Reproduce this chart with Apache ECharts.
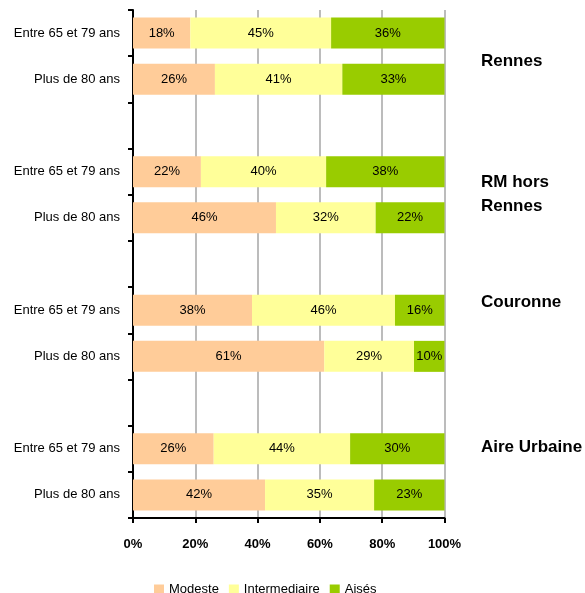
<!DOCTYPE html>
<html>
<head>
<meta charset="utf-8">
<script src="https://cdn.jsdelivr.net/npm/echarts@6/dist/echarts.min.js"></script>
<style>
html,body{margin:0;padding:0;background:#fff;}
#chart{width:585px;height:593px;}
</style>
</head>
<body>
<div id="chart"></div>
<script>
const categories = [
  'Entre 65 et 79 ans', 'Plus de 80 ans', '',
  'Entre 65 et 79 ans', 'Plus de 80 ans', '',
  'Entre 65 et 79 ans', 'Plus de 80 ans', '',
  'Entre 65 et 79 ans', 'Plus de 80 ans'
];
const seriesNames = ['Modeste', 'Intermediaire', 'Aisés'];
const modeste       = [18.4, 26.3, null, 21.8, 45.9, null, 38.2, 61.4, null, 25.9, 42.4];
const intermediaire = [45.2, 40.9, null, 40.2, 32.0, null, 45.9, 28.8, null, 43.8, 35.0];
const aises         = [36.4, 32.8, null, 38.0, 22.1, null, 15.9,  9.8, null, 30.3, 22.6];
const colors = ['#FFCC99', '#FFFF99', '#99CC00'];
const xTicks = [0, 20, 40, 60, 80, 100];
const groupLabels = [
  { text: 'Rennes', x: 481, y: 49 },
  { text: 'RM hors\nRennes', x: 481, y: 170 },
  { text: 'Couronne', x: 481, y: 290 },
  { text: 'Aire Urbaine', x: 481, y: 435 }
];

const FONT = '"Liberation Sans", Arial, sans-serif';
const chart = echarts.init(document.getElementById('chart'), null, { renderer: 'canvas' });

const values = [modeste, intermediaire, aises];
const series = seriesNames.map((name, i) => ({
  name: name,
  type: 'bar',
  stack: 'total',
  barWidth: 31,
  data: values[i],
  itemStyle: { color: colors[i] },
  label: {
    show: true,
    position: 'inside',
    color: '#000',
    fontSize: 13,
    fontFamily: FONT,
    formatter: p => (p.value == null ? '' : Math.round(p.value) + '%')
  },
  emphasis: { disabled: true }
}));

chart.setOption({
  animation: false,
  textStyle: { fontFamily: FONT },
  grid: { left: 133, right: 140.5, top: 10, bottom: 75, containLabel: false },
  xAxis: {
    type: 'value',
    min: xTicks[0],
    max: xTicks[xTicks.length - 1],
    interval: 20,
    axisLine: { show: true, lineStyle: { color: '#000', width: 2 } },
    axisTick: { show: true, length: 5, lineStyle: { color: '#000', width: 2 } },
    splitLine: { show: true, lineStyle: { color: '#A6A6A6', width: 1.5 } },
    axisLabel: {
      color: '#000',
      fontSize: 13,
      fontWeight: 'bold',
      fontFamily: FONT,
      margin: 20,
      formatter: v => v + '%'
    }
  },
  yAxis: {
    type: 'category',
    inverse: true,
    data: categories,
    axisLine: { show: true, lineStyle: { color: '#000', width: 2 } },
    axisTick: { show: true, interval: 0, length: 5, lineStyle: { color: '#000', width: 2 } },
    axisLabel: { interval: 0, color: '#000', fontSize: 13, fontFamily: FONT, margin: 13 },
    splitLine: { show: false }
  },
  legend: {
    data: seriesNames,
    left: 149,
    top: 578,
    itemWidth: 10,
    itemHeight: 10,
    itemGap: 10,
    icon: 'rect',
    textStyle: { color: '#000', fontSize: 13, fontFamily: FONT }
  },
  graphic: groupLabels.map(g => ({
    type: 'text',
    left: g.x,
    top: g.y,
    style: {
      text: g.text,
      fill: '#000',
      font: 'bold 17px ' + FONT,
      lineHeight: 24
    }
  })),
  series: series
});
</script>
</body>
</html>
